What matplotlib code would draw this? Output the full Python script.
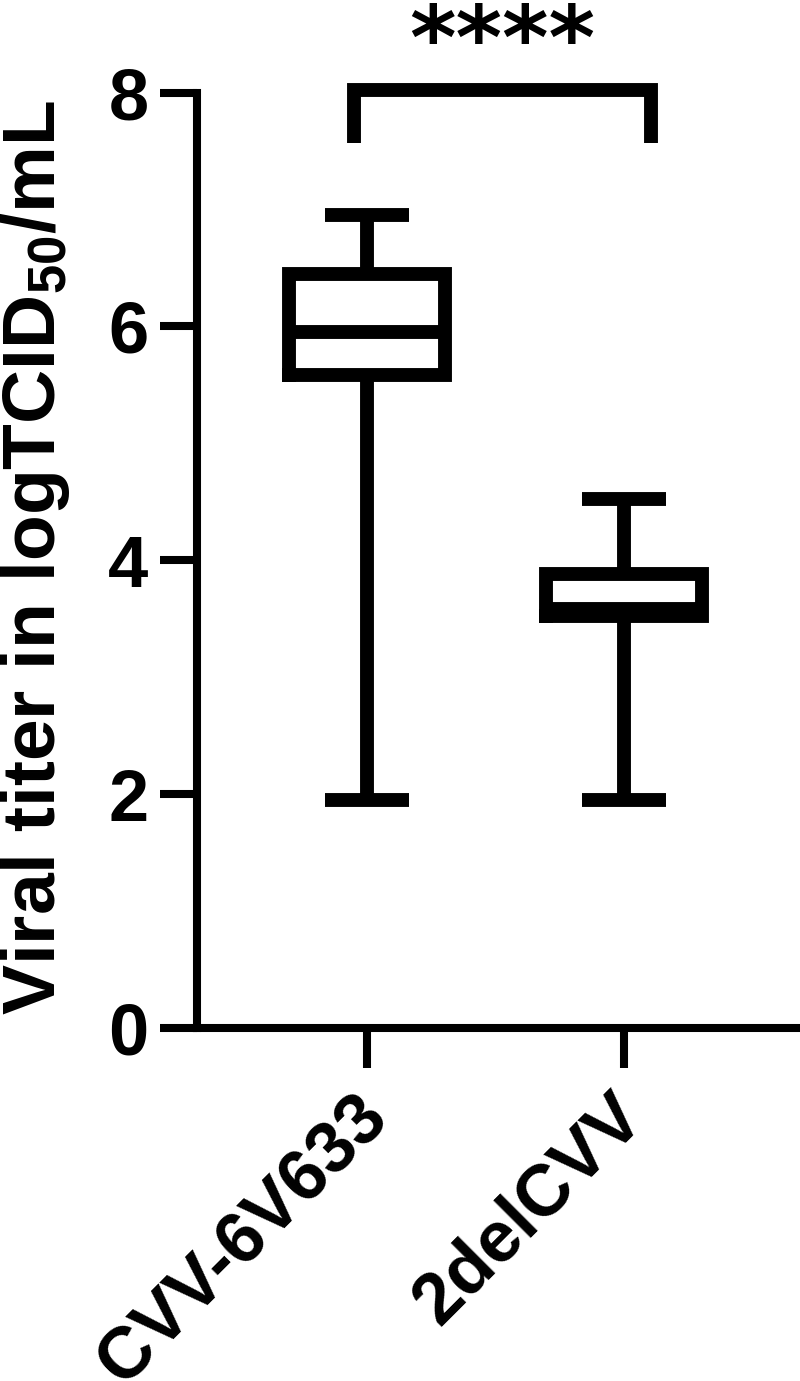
import matplotlib
matplotlib.use("Agg")
import matplotlib.pyplot as plt
from matplotlib.transforms import ScaledTranslation

plt.rcParams['font.family'] = ['Liberation Sans', 'DejaVu Sans']
plt.rcParams['font.weight'] = 'bold'
plt.rcParams['mathtext.fontset'] = 'custom'
plt.rcParams['mathtext.rm'] = 'Liberation Sans:bold'
plt.rcParams['mathtext.bf'] = 'Liberation Sans:bold'
plt.rcParams['mathtext.it'] = 'Liberation Sans:bold'

# box plot summary (logTCID50/mL)
groups = ["CVV-6V633", "2delCVV"]
whisker_low = [1.95, 1.95]
q1 = [5.58, 3.52]
median = [5.95, 3.58]
q3 = [6.45, 3.88]
whisker_high = [6.95, 4.52]
yticks = [0, 2, 4, 6, 8]

stats = []
for i in range(len(groups)):
    stats.append(dict(label=groups[i], whislo=whisker_low[i], q1=q1[i],
                      med=median[i], q3=q3[i], whishi=whisker_high[i]))

fig = plt.figure(figsize=(8, 13.81), dpi=100)
ax = fig.add_axes([197/800, 1 - 1028/1381, 1 - 197/800, (1028 - 92.5)/1381])

lw = 10
line = dict(color='black', linewidth=lw, solid_capstyle='butt', solid_joinstyle='miter')
box = dict(line, solid_capstyle='projecting')
ax.bxp(stats, positions=[1, 2], widths=0.61, capwidths=0.33, showfliers=False,
       boxprops=box, whiskerprops=line, capprops=line, medianprops=line)

ax.set_xlim(1 - 170/257, 2 + 176/257)
ax.set_ylim(0, 8)

for s in ['top', 'right']:
    ax.spines[s].set_visible(False)
for s in ['left', 'bottom']:
    ax.spines[s].set_linewidth(5.8)
    ax.spines[s].set_capstyle('projecting')

ax.set_yticks(yticks)
ax.set_yticklabels([str(t) for t in yticks])
ax.tick_params(axis='y', length=27, width=5.8, pad=8, labelsize=52)
ax.tick_params(axis='x', length=29, width=5.8, pad=4, labelsize=52)
ax.set_xticks([1, 2])
ax.set_xticklabels(groups, rotation=45, ha='right', va='top', rotation_mode='anchor')
shift = ScaledTranslation(-15/100, -8/100, fig.dpi_scale_trans)
for lab in ax.get_xticklabels():
    lab.set_transform(lab.get_transform() + shift)

# significance bracket
ax.plot([0.951, 0.951, 2.107, 2.107], [7.57, 8.02, 8.02, 7.57], color='black',
        lw=lw, solid_capstyle='butt', solid_joinstyle='miter', clip_on=False)
ax.text(1.525, 8.2, "****", ha='center', va='baseline', fontsize=64,
        family='DejaVu Sans', weight='bold', clip_on=False)

fig.text(55/800, 1 - 558/1381, r"Viral titer in logTCID$_{50}$/mL", rotation=90,
         rotation_mode='anchor', ha='center', va='baseline', fontsize=54, weight='bold')

fig.savefig("out.png", dpi=100)
